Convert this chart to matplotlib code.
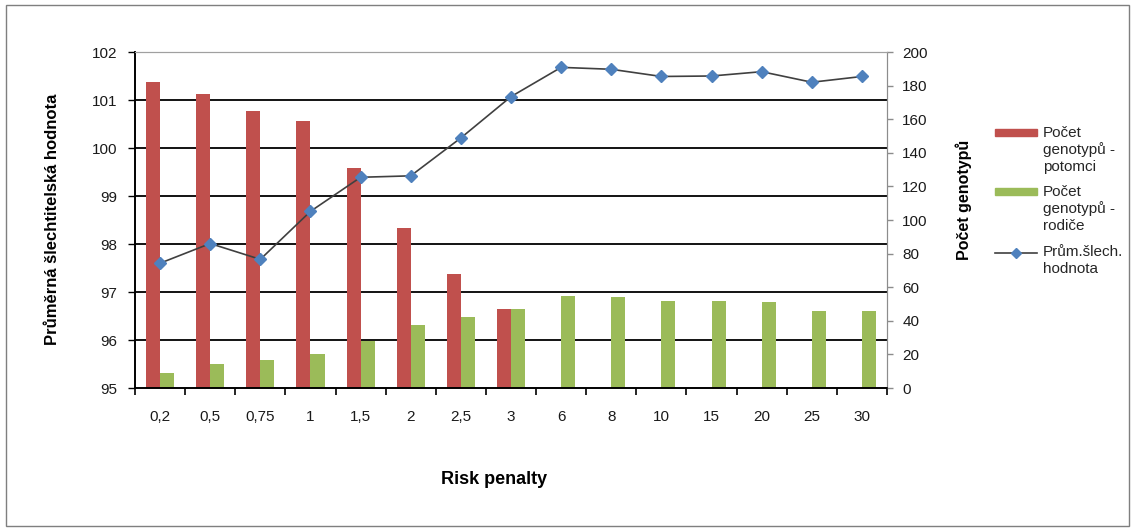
import numpy as np
import matplotlib
matplotlib.use("Agg")
import matplotlib.pyplot as plt
from matplotlib.patches import Rectangle
from matplotlib.lines import Line2D

plt.rcParams["font.family"] = ["Liberation Sans", "DejaVu Sans"]

# Risk penalty levels (x categories)
penalties = ["0,2", "0,5", "0,75", "1", "1,5", "2", "2,5", "3",
             "6", "8", "10", "15", "20", "25", "30"]

# Number of genotypes - offspring (right axis); none beyond penalty 3
count_offspring = [182, 175, 165, 159, 131, 95, 68, 47,
                   0, 0, 0, 0, 0, 0, 0]
# Number of genotypes - parents (right axis)
count_parents = [9, 14, 16.5, 20, 28, 37.5, 42, 47,
                 55, 54, 51.5, 51.5, 51, 46, 46]
# Mean breeding value (left axis)
mean_value = [97.60, 98.01, 97.68, 98.68, 99.39, 99.42, 100.21, 101.07,
              101.68, 101.64, 101.49, 101.50, 101.59, 101.37, 101.49]

RED = "#c0504d"
GREEN = "#9bbb59"
BLUE = "#4f81bd"

W, H = 1135, 530
fig = plt.figure(figsize=(W / 100, H / 100), dpi=100)

# thin frame around the whole chart
fig.add_artist(Rectangle((6 / W, 1 - 526 / H), 1123 / W, 521 / H,
                         transform=fig.transFigure, fill=False,
                         edgecolor="#7f7f7f", linewidth=1.0))

x0, x1, ytop, ybot = 135, 887, 52, 388
ax = fig.add_axes([x0 / W, 1 - ybot / H, (x1 - x0) / W, (ybot - ytop) / H])
ax2 = ax.twinx()

# line axes on top of the bar axes
ax.set_zorder(ax2.get_zorder() + 1)
ax.patch.set_visible(False)

n = len(penalties)
x = np.arange(n)
bw = 0.28

# bars live on the count axis
ax2.bar(x - bw / 2, count_offspring, width=bw, color=RED, zorder=2)
ax2.bar(x + bw / 2, count_parents, width=bw, color=GREEN, zorder=2)
ax2.set_ylim(0, 200)
ax2.set_yticks(np.arange(0, 201, 20))
# horizontal grid at each whole value of the left axis, behind the bars
for v in range(96, 102):
    ax2.axhline((v - 95) * 200 / 7, color="black", linewidth=1.3, zorder=1)

ax.set_ylim(95, 102)
ax.set_yticks(np.arange(95, 103, 1))
ax.set_xlim(-0.5, n - 0.5)
ax.plot(x, mean_value, color="#404040", linewidth=1.2,
        marker="D", markersize=6.5, markerfacecolor=BLUE,
        markeredgecolor=BLUE, zorder=3)

# x axis: ticks between categories, labels centred
ax.set_xticks(np.arange(-0.5, n, 1.0))
ax.set_xticklabels([])
ax.set_xticks(x, minor=True)
ax.set_xticklabels(penalties, minor=True)
ax.tick_params(axis="x", which="major", direction="out", length=5, width=1.2)
ax.tick_params(axis="x", which="minor", length=0, pad=16, labelsize=11,
               labelcolor="#1a1a1a")
ax.tick_params(axis="y", direction="out", length=5, width=1.0, pad=8,
               labelsize=11, labelcolor="#1a1a1a")
ax2.tick_params(axis="y", direction="out", length=4, width=1.0,
                color="#8c8c8c", pad=7, labelsize=11, labelcolor="#1a1a1a")

for a in (ax, ax2):
    a.spines["top"].set_color("#a0a0a0")
    a.spines["right"].set_color("#8c8c8c")
    a.spines["left"].set_color("black")
    a.spines["bottom"].set_color("black")
    a.spines["left"].set_linewidth(1.2)
    a.spines["bottom"].set_linewidth(1.2)

fig.text(494 / W, 1 - 480 / H, "Risk penalty", ha="center", va="center",
         fontsize=13, fontweight="bold")
fig.text(53 / W, 1 - 219 / H, "Průměrná šlechtitelská hodnota", ha="center",
         va="center", rotation=90, fontsize=12, fontweight="bold")
fig.text(964 / W, 1 - 200 / H, "Počet genotypů", ha="center", va="center",
         rotation=90, fontsize=11.5, fontweight="bold")


# legend drawn by hand so each key sits beside the first text line
def fx(px):
    return px / W


def fy(py):
    return 1 - py / H


leg_text = dict(fontsize=11, color="#262626", va="center", ha="left")
fig.add_artist(Rectangle((fx(995), fy(136)), 42 / W, 7 / H,
                         transform=fig.transFigure, color=RED))
fig.text(fx(1043), fy(133), "Počet", **leg_text)
fig.text(fx(1043), fy(150), "genotypů -", **leg_text)
fig.text(fx(1043), fy(167), "potomci", **leg_text)

fig.add_artist(Rectangle((fx(995), fy(195)), 42 / W, 7 / H,
                         transform=fig.transFigure, color=GREEN))
fig.text(fx(1043), fy(192), "Počet", **leg_text)
fig.text(fx(1043), fy(209), "genotypů -", **leg_text)
fig.text(fx(1043), fy(226), "rodiče", **leg_text)

fig.add_artist(Line2D([fx(995), fx(1037)], [fy(253), fy(253)],
                      transform=fig.transFigure, color="#404040",
                      linewidth=1.2))
fig.add_artist(Line2D([fx(1016)], [fy(253)], transform=fig.transFigure,
                      marker="D", markersize=5, color=BLUE))
fig.text(fx(1043), fy(252), "Prům.šlech.", **leg_text)
fig.text(fx(1043), fy(269), "hodnota", **leg_text)

fig.savefig("out.png", dpi=100)
